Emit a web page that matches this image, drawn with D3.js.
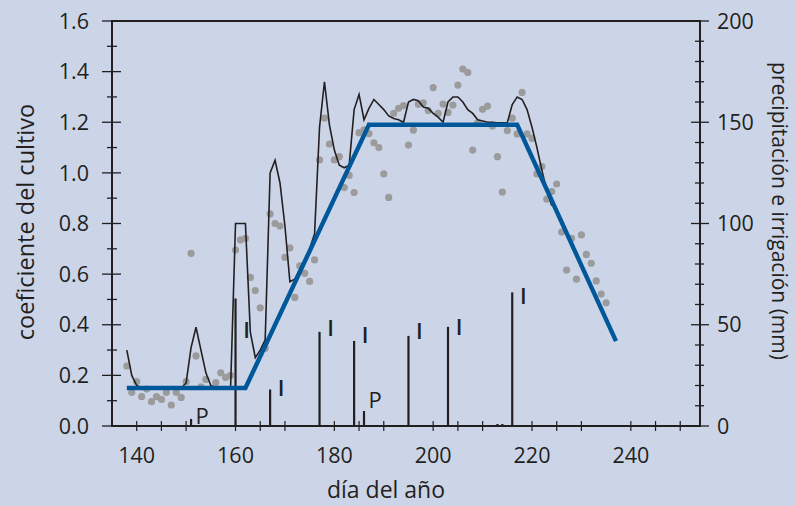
<!DOCTYPE html>
<html>
<head>
<meta charset="utf-8">
<script src="https://cdn.jsdelivr.net/npm/d3@7"></script>
<style>
  html, body { margin: 0; padding: 0; background: #ccd5e8; }
  svg { display: block; }
  text { font-family: "Open Sans", "Noto Sans", sans-serif; fill: #231f20; }
</style>
</head>
<body>
<svg id="chart" width="795" height="506"></svg>
<script>
// ---- data ----
const dotDays = [138,139,140,141,142,143,144,145,146,147,148,149,150,151,152,153,154,156,157,158,159,160,161,162,163,164,165,166,167,168,169,170,171,172,173,174,175,176,177,178,179,180,181,182,183,184,185,186,187,188,189,190,191,192,193,194,195,196,197,198,199,200,201,202,203,204,205,206,207,208,209,210,211,212,213,214,215,216,217,218,219,220,221,222,223,224,225,226,227,228,229,230,231,232,233,234,235];
const dotKc = [0.237,0.133,0.175,0.116,0.146,0.096,0.116,0.105,0.133,0.083,0.133,0.113,0.175,0.682,0.277,0.155,0.184,0.171,0.21,0.192,0.2,0.695,0.735,0.741,0.587,0.535,0.467,0.307,0.838,0.80,0.79,0.666,0.704,0.508,0.633,0.603,0.571,0.656,1.051,1.216,1.114,1.051,1.064,0.942,0.99,0.922,1.159,1.17,1.155,1.119,1.10,0.996,0.903,1.235,1.255,1.266,1.11,1.169,1.271,1.277,1.246,1.337,1.235,1.272,1.239,1.268,1.347,1.41,1.397,1.09,1.198,1.251,1.264,1.185,1.064,0.924,1.167,1.216,1.154,1.318,1.154,1.136,0.996,1.025,0.896,0.926,0.956,0.766,0.616,0.741,0.58,0.755,0.678,0.643,0.573,0.521,0.487];

const lineDays = [138,139,140,141,142,143,144,145,146,147,148,149,150,151,152,153,154,155,156,157,158,159,160,161,162,163,164,165,166,167,168,169,170,171,172,173,174,175,176,177,178,179,180,181,182,183,184,185,186,187,188,189,190,191,192,193,194,195,196,197,198,199,200,201,202,203,204,205,206,207,208,209,210,211,212,213,214,215,216,217,218,219,220,221,222,223,224];
const lineKc = [0.30,0.20,0.16,0.15,0.15,0.15,0.15,0.15,0.15,0.15,0.15,0.15,0.17,0.31,0.39,0.30,0.21,0.16,0.15,0.15,0.15,0.15,0.80,0.80,0.80,0.37,0.27,0.30,0.34,1.00,1.05,0.96,0.79,0.57,0.58,0.62,0.66,0.70,0.76,1.18,1.36,1.19,1.09,1.03,1.02,1.03,1.25,1.31,1.21,1.255,1.29,1.27,1.25,1.225,1.215,1.21,1.20,1.28,1.29,1.285,1.26,1.255,1.235,1.22,1.20,1.28,1.30,1.30,1.28,1.25,1.235,1.21,1.205,1.20,1.20,1.198,1.198,1.198,1.27,1.30,1.29,1.25,1.18,1.10,1.01,0.93,0.87];

const faoDays = [138,162,187,217,237];
const faoKc = [0.15,0.15,1.19,1.19,0.335];

const barDays = [151,160,167,177,184,186,195,203,213,214,216];
const barMm = [3.5,63,18,46.5,42,7.4,44.5,49,1,1,66];
const barType = ["P","I","I","I","I","P","I","I","","","I"];
const barLabelMm = [4.9,47.4,18.8,48.4,44.9,12.8,46.9,48.9,null,null,64.2];

const xTicks = [140,145,150,160,165,170,180,185,190,200,205,210,220,225,230,240,245,250];
const xTickLabels = [140,160,180,200,220,240];
const yLeftTicks = [0,0.2,0.4,0.6,0.8,1.0,1.2,1.4,1.6];
const yLeftMinor = [0.1,0.3,0.5,0.7,0.9,1.1,1.3,1.5];
const yRightTicks = [0,50,100,150,200];
const yRightMinor = [10,20,30,40,60,70,80,90,110,120,130,140,160,170,180,190];

// ---- layout ----
const L = 112, R = 700, T = 21, B = 426;
const svg = d3.select("#chart");
const x = d3.scaleLinear().domain([135, 254]).range([L, R]);
const yL = d3.scaleLinear().domain([0, 1.6]).range([B, T]);
const yR = d3.scaleLinear().domain([0, 200]).range([B, T]);
const ink = "#231f20";

// frame
svg.append("rect").attr("x", L).attr("y", T).attr("width", R - L).attr("height", B - T)
  .attr("fill", "none").attr("stroke", ink).attr("stroke-width", 2);

// left axis ticks
const gl = svg.append("g");
gl.selectAll("line.maj").data(yLeftTicks).join("line")
  .attr("x1", L - 10).attr("x2", L + 9).attr("y1", d => yL(d)).attr("y2", d => yL(d))
  .attr("stroke", ink).attr("stroke-width", 1.3);
gl.selectAll("line.min").data(yLeftMinor).join("line").attr("class","min")
  .attr("x1", L - 5).attr("x2", L + 5).attr("y1", d => yL(d)).attr("y2", d => yL(d))
  .attr("stroke", ink).attr("stroke-width", 1.3);
gl.selectAll("text").data(yLeftTicks).join("text")
  .attr("x", 89).attr("y", d => yL(d)).attr("dy", "0.36em")
  .attr("text-anchor", "end").attr("font-size", 21.5).text(d => d.toFixed(1));

// right axis ticks
const gr = svg.append("g");
gr.selectAll("line.maj").data(yRightTicks).join("line")
  .attr("x1", R - 9).attr("x2", R + 9).attr("y1", d => yR(d)).attr("y2", d => yR(d))
  .attr("stroke", ink).attr("stroke-width", 1.3);
gr.selectAll("line.min").data(yRightMinor).join("line").attr("class","min")
  .attr("x1", R - 5).attr("x2", R + 4).attr("y1", d => yR(d)).attr("y2", d => yR(d))
  .attr("stroke", ink).attr("stroke-width", 1.3);
gr.selectAll("text").data(yRightTicks).join("text")
  .attr("x", 717).attr("y", d => yR(d)).attr("dy", "0.36em")
  .attr("text-anchor", "start").attr("font-size", 21.5).text(d => d);

// bottom axis ticks
const gb = svg.append("g");
gb.selectAll("line").data(xTicks).join("line")
  .attr("x1", d => x(d)).attr("x2", d => x(d)).attr("y1", B - 5).attr("y2", B + 5)
  .attr("stroke", ink).attr("stroke-width", 1.2);
gb.selectAll("text").data(xTickLabels).join("text")
  .attr("x", d => x(d)).attr("y", 463).attr("text-anchor", "middle")
  .attr("font-size", 21.5).text(d => d);

// axis titles
svg.append("text").attr("transform", `translate(34,222) rotate(-90)`)
  .attr("text-anchor", "middle").attr("font-size", 23.5).text("coeficiente del cultivo");
svg.append("text").attr("x", 386).attr("y", 498).attr("text-anchor", "middle")
  .attr("font-size", 23).text("día del año");
svg.append("text").attr("transform", `translate(772,211) rotate(90)`)
  .attr("text-anchor", "middle").attr("font-size", 21).text("precipitación e irrigación (mm)");

// bars
const bars = barDays.map((d, i) => ({ d, v: barMm[i], t: barType[i], lv: barLabelMm[i] }));
svg.append("g").selectAll("line").data(bars).join("line")
  .attr("x1", d => x(d.d)).attr("x2", d => x(d.d))
  .attr("y1", B).attr("y2", d => yR(d.v))
  .attr("stroke", ink).attr("stroke-width", 2.2);
svg.append("g").selectAll("text").data(bars.filter(b => b.t)).join("text")
  .attr("x", d => x(d.d) + 11).attr("y", d => yR(d.lv)).attr("dy", "0.36em")
  .attr("text-anchor", "middle").attr("font-size", 22)
  .attr("font-weight", d => d.t === "I" ? 600 : 400).text(d => d.t);

// dots
svg.append("g").selectAll("circle").data(dotDays.map((d, i) => [d, dotKc[i]])).join("circle")
  .attr("cx", d => x(d[0])).attr("cy", d => yL(d[1])).attr("r", 3.6)
  .attr("fill", "#9b9b9b");

// black line
const line = d3.line().x(d => x(d[0])).y(d => yL(d[1]));
svg.append("path").datum(lineDays.map((d, i) => [d, lineKc[i]]))
  .attr("d", line).attr("fill", "none").attr("stroke", ink).attr("stroke-width", 1.6)
  .attr("stroke-linejoin", "miter");

// FAO blue line
svg.append("path").datum(faoDays.map((d, i) => [d, faoKc[i]]))
  .attr("d", line).attr("fill", "none").attr("stroke", "#00589b").attr("stroke-width", 4.4)
  .attr("stroke-linejoin", "miter");
</script>
</body>
</html>
